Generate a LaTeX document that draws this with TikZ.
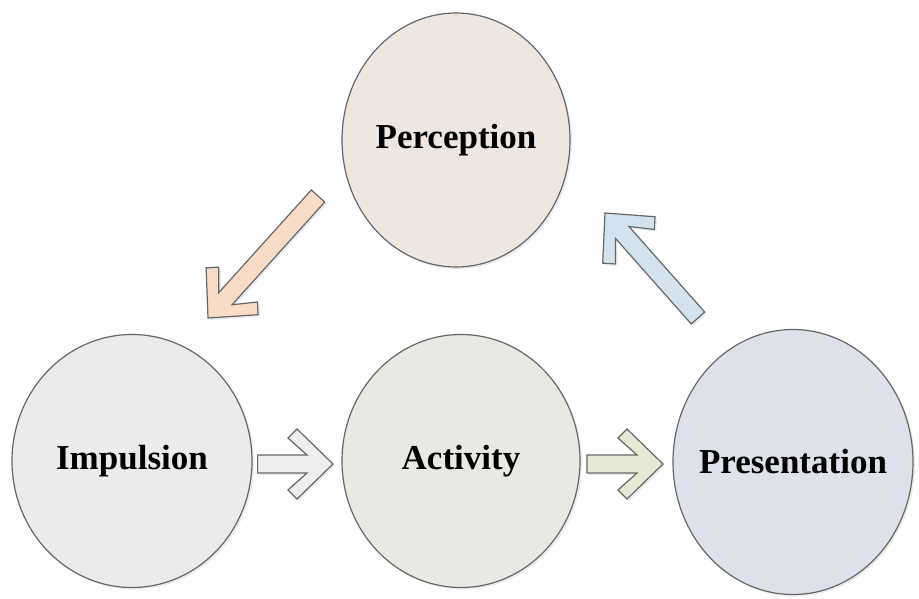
\documentclass[tikz,border=0pt]{standalone}
\usepackage{fontspec}
\setmainfont{Liberation Serif}
\usetikzlibrary{shapes.geometric,calc,shadows}
\definecolor{percfill}{RGB}{238,230,225}
\definecolor{impfill}{RGB}{235,235,235}
\definecolor{actfill}{RGB}{230,234,227}
\definecolor{presfill}{RGB}{222,225,234}
\definecolor{peach}{RGB}{249,220,200}
\definecolor{pale}{RGB}{238,238,238}
\definecolor{sage}{RGB}{229,234,214}
\definecolor{sky}{RGB}{212,226,238}
\tikzset{phase/.style={ellipse,draw=black!60,line width=1.2pt,inner sep=0pt,
    drop shadow={shadow xshift=2pt,shadow yshift=-2pt,opacity=.15},
    label={[font=\fontsize{35}{40}\selectfont\bfseries]center:#1}},
  barrow/.style={draw=black!60,line width=1.2pt,line join=miter,
    drop shadow={shadow xshift=2pt,shadow yshift=-2pt,opacity=.15}}}
% block arrow with a chevron head: #1 colour, #2 tail, #3 tip
\newcommand\blockarrow[3]{%
  \draw[barrow,fill=#1] ($(#2)!9pt!-90:(#3)$) -- ($(#3)!27.5pt!19.1:(#2)$)
    -- ($(#3)!52pt!30:(#2)$) -- ($(#3)!50.2pt!44.2:(#2)$) -- (#3)
    -- ($(#3)!50.2pt!-44.2:(#2)$) -- ($(#3)!52pt!-30:(#2)$)
    -- ($(#3)!27.5pt!-19.1:(#2)$) -- ($(#2)!9pt!90:(#3)$) -- cycle;}

\begin{document}
\begin{tikzpicture}[x=1pt,y=-1pt]
        \useasboundingbox (0,0) rectangle (919,599);
        \node[phase=Perception,fill=percfill,minimum width=228pt,minimum height=254pt] (perc) at (456,140) {};
        \node[phase=Impulsion,fill=impfill,minimum width=240pt,minimum height=253pt] (imp) at (132,461) {};
        \node[phase=Activity,fill=actfill,minimum width=238pt,minimum height=253pt] (act) at (461,461) {};
        \node[phase=Presentation,fill=presfill,minimum width=240pt,minimum height=265pt] (pres) at (793,462) {};
        % arrow ends
        \coordinate (pi-tail) at (318,196);
        \coordinate (pi-tip) at (208,318);
        \coordinate (ia-tail) at ([xshift=5pt]imp.east |- 0,464);
        \coordinate (ia-tip) at (333,464);
        \coordinate (ap-tail) at (587,464);
        \coordinate (ap-tip) at (663,464);
        \coordinate (pp-tail) at (698,318);
        \coordinate (pp-tip) at (605,213);
        \blockarrow{peach}{pi-tail}{pi-tip}
        \blockarrow{pale}{ia-tail}{ia-tip}
        \blockarrow{sage}{ap-tail}{ap-tip}
        \blockarrow{sky}{pp-tail}{pp-tip}
    \end{tikzpicture}
\end{document}
